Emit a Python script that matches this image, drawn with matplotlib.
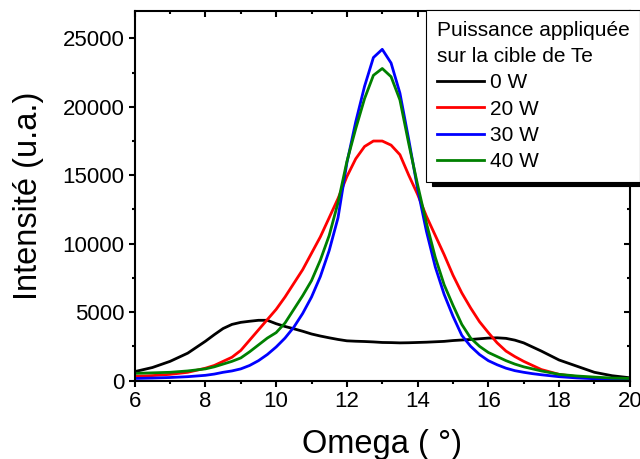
import matplotlib
matplotlib.use("Agg")
import matplotlib.pyplot as plt
from matplotlib.ticker import MultipleLocator

plt.rcParams['font.family'] = ['Liberation Sans', 'DejaVu Sans']

# Omega (deg)
omega = [6, 6.5, 7, 7.5,
         8, 8.25, 8.5, 8.75, 9, 9.25, 9.5, 9.75, 10, 10.25,
         10.5, 10.75, 11, 11.25, 11.5, 11.75, 12, 12.25, 12.5, 12.75,
         13, 13.25, 13.5, 13.75, 14, 14.25, 14.5, 14.75, 15, 15.25,
         15.5, 15.75, 16, 16.25, 16.5, 16.75, 17, 17.25, 17.5,
         18, 18.5, 19, 19.5, 20]

# intensites
i_0w = [650, 950, 1400, 2000,
        2870, 3350, 3800, 4100, 4250, 4330, 4400, 4400, 4150, 3950,
        3780, 3600, 3400, 3250, 3120, 3000, 2900, 2870, 2850, 2820,
        2780, 2770, 2750, 2760, 2780, 2800, 2830, 2860, 2920, 2960,
        3000, 3050, 3100, 3120, 3080, 2950, 2750, 2450, 2150,
        1500, 1050, 600, 350, 200]
i_20w = [300, 360, 450, 600,
         900, 1100, 1400, 1700, 2200, 2950, 3700, 4450, 5200, 6100,
         7100, 8100, 9300, 10500, 11900, 13300, 14900, 16200, 17100, 17500,
         17500, 17200, 16500, 15000, 13600, 12000, 10600, 9200, 7700, 6400,
         5300, 4300, 3500, 2750, 2150, 1750, 1400, 1100, 800,
         450, 280, 180, 120, 90]
i_30w = [150, 180, 220, 280,
         380, 470, 600, 700, 850, 1100, 1450, 1900, 2450, 3100,
         3900, 4900, 6100, 7600, 9500, 11900, 15900, 18900, 21500, 23600,
         24200, 23200, 21000, 17600, 14000, 10900, 8300, 6300, 4700, 3300,
         2500, 1900, 1450, 1150, 900, 720, 600, 500, 420,
         280, 190, 130, 90, 60]
i_40w = [520, 560, 600, 700,
         850, 1000, 1200, 1400, 1650, 2100, 2600, 3100, 3500, 4200,
         5200, 6200, 7300, 8800, 10600, 13000, 16000, 18400, 20600, 22300,
         22800, 22200, 20500, 17300, 14300, 11500, 9000, 7000, 5500, 4100,
         3100, 2500, 2050, 1750, 1450, 1200, 1000, 850, 700,
         450, 330, 250, 180, 150]

labels = ["0 W", "20 W", "30 W", "40 W"]
colors = ["black", "red", "blue", "green"]

fig = plt.figure(figsize=(6.4, 4.59), dpi=100)
ax = fig.add_axes([0.2105, 0.171, 0.7735, 0.805])

for y, lab, c in zip([i_0w, i_20w, i_30w, i_40w], labels, colors):
    ax.plot(omega, y, color=c, lw=2, label=lab)

ax.set_xlim(6, 20)
ax.set_ylim(0, 27000)
ax.xaxis.set_major_locator(MultipleLocator(2))
ax.xaxis.set_minor_locator(MultipleLocator(1))
ax.yaxis.set_major_locator(MultipleLocator(5000))
ax.yaxis.set_minor_locator(MultipleLocator(2500))

for s in ax.spines.values():
    s.set_linewidth(1.5)

ax.tick_params(which='both', direction='out', width=1.5, labelsize=16, pad=3)
ax.tick_params(which='major', length=4.5)
ax.tick_params(which='minor', length=2.5)
ax.tick_params(which='both', top=True, right=True)
# ticks interieurs en haut et a droite
for t in ax.xaxis.get_major_ticks() + ax.xaxis.get_minor_ticks():
    t.tick2line.set_marker(3)
for t in ax.yaxis.get_major_ticks() + ax.yaxis.get_minor_ticks():
    t.tick2line.set_marker(0)

ax.set_xlabel("Omega ( °)", fontsize=23.5, labelpad=12)
ax.set_ylabel("Intensité (u.a.)", fontsize=23.5, labelpad=13)

leg = ax.legend(loc='upper left', bbox_to_anchor=(0.666, 0.978), bbox_transform=fig.transFigure,
                title="Puissance appliquée\nsur la cible de Te", fontsize=15, title_fontsize=15,
                fancybox=False, framealpha=1, edgecolor='black', handlelength=2.25,
                handletextpad=0.3, labelspacing=0.35, borderpad=0.5, borderaxespad=0,
                alignment='left',
                shadow={'ox': 4, 'oy': -3.5, 'color': 'black', 'alpha': 1})
leg.get_frame().set_linewidth(0.8)
leg.get_title().set_linespacing(1.5)

fig.savefig("out.png", dpi=100)
